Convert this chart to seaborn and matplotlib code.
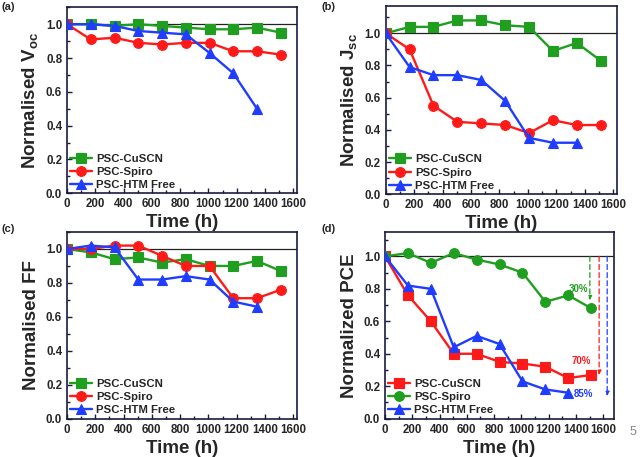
import matplotlib
matplotlib.use('Agg')
import matplotlib.pyplot as plt
import seaborn as sns
from matplotlib.ticker import MultipleLocator, AutoMinorLocator

# === data ===
hours = [0, 168, 336, 504, 672, 840, 1008, 1176, 1344, 1512]
hours_htm = hours[:9]

voc_cuscn = [1.0, 1.0, 0.99, 1.0, 0.99, 0.98, 0.97, 0.97, 0.98, 0.95]
voc_spiro = [1.0, 0.91, 0.92, 0.89, 0.88, 0.89, 0.89, 0.84, 0.84, 0.82]
voc_htm = [1.0, 1.0, 0.99, 0.96, 0.95, 0.94, 0.83, 0.71, 0.50]

jsc_cuscn = [1.0, 1.04, 1.04, 1.08, 1.08, 1.05, 1.04, 0.89, 0.94, 0.83]
jsc_spiro = [1.0, 0.90, 0.55, 0.45, 0.44, 0.43, 0.38, 0.46, 0.43, 0.43]
jsc_htm = [1.0, 0.79, 0.74, 0.74, 0.71, 0.58, 0.35, 0.32, 0.32]

ff_cuscn = [1.0, 0.98, 0.94, 0.95, 0.92, 0.94, 0.90, 0.90, 0.93, 0.87]
ff_spiro = [1.0, 1.0, 1.02, 1.02, 0.96, 0.90, 0.90, 0.71, 0.71, 0.76]
ff_htm = [1.0, 1.02, 1.01, 0.82, 0.82, 0.84, 0.82, 0.69, 0.66]

# panel (d) keeps the legend order of the original figure
pce_cuscn = [1.0, 0.76, 0.60, 0.40, 0.40, 0.35, 0.34, 0.32, 0.25, 0.27]
pce_spiro = [1.0, 1.02, 0.96, 1.02, 0.98, 0.95, 0.90, 0.72, 0.76, 0.68]
pce_htm = [1.0, 0.82, 0.80, 0.44, 0.51, 0.46, 0.23, 0.18, 0.16]

loss_labels = ["30%", "70%", "85%"]
loss_x = [1502, 1570, 1629]
loss_end = [0.73, 0.27, 0.14]
loss_text_x = [1417, 1441, 1453]
loss_text_y = [0.80, 0.355, 0.155]

GREEN = "#1f9e1f"
RED = "#ff1a1a"
BLUE = "#1f3dff"

sns.set_style("ticks")
plt.rcParams['font.family'] = ['Liberation Sans', 'DejaVu Sans']
plt.rcParams['font.weight'] = 'bold'
plt.rcParams['mathtext.fontset'] = 'custom'
plt.rcParams['mathtext.bf'] = 'Liberation Sans:bold'
plt.rcParams['mathtext.rm'] = 'Liberation Sans:bold'
plt.rcParams['mathtext.it'] = 'Liberation Sans:bold'

fig = plt.figure(figsize=(6.4, 4.57), dpi=100)

boxes = {
    "a": [0.1047, 0.577, 0.359, 0.407],
    "b": [0.6027, 0.575, 0.361, 0.412],
    "c": [0.1047, 0.0838, 0.359, 0.4085],
    "d": [0.6016, 0.0838, 0.358, 0.4085],
}


def draw_series(ax, x, y, marker, color, label):
    sns.lineplot(x=x, y=y, ax=ax, marker=marker, color=color, label=label,
                 linewidth=1.7, markersize=7, markeredgecolor=color,
                 markeredgewidth=0.8, zorder=3)


def style_axes(ax, ylabel, ytop, xright=1625):
    ax.axhline(1.0, color="#222222", lw=0.9, zorder=1)
    ax.set_xlim(0, xright)
    ax.set_ylim(0, ytop)
    ax.xaxis.set_major_locator(MultipleLocator(200))
    ax.xaxis.set_minor_locator(AutoMinorLocator(2))
    ax.yaxis.set_major_locator(MultipleLocator(0.2))
    ax.yaxis.set_minor_locator(AutoMinorLocator(2))
    ax.tick_params(which="both", direction="in", top=False, right=False,
                   labelsize=8.3, width=1.0, color="#1a1a40")
    ax.tick_params(which="major", length=3.5)
    ax.tick_params(which="minor", length=2)
    for lbl in ax.get_xticklabels() + ax.get_yticklabels():
        lbl.set_fontweight("bold")
    for sp in ax.spines.values():
        sp.set_linewidth(1.2)
        sp.set_color("#1a1a40")
    ax.set_xlabel("Time (h)", fontsize=13.5, fontweight="bold", labelpad=3)
    ax.set_ylabel(ylabel, fontsize=13.5, fontweight="bold", labelpad=4)
    ax.legend(loc="lower left", frameon=False,
              handlelength=1.9, handletextpad=0.35, labelspacing=0.28,
              borderaxespad=0.0, borderpad=0.3,
              prop={"weight": "bold", "size": 8.2})


# (a)
ax = fig.add_axes(boxes["a"])
draw_series(ax, hours, voc_cuscn, "s", GREEN, "PSC-CuSCN")
draw_series(ax, hours, voc_spiro, "o", RED, "PSC-Spiro")
draw_series(ax, hours_htm, voc_htm, "^", BLUE, "PSC-HTM Free")
style_axes(ax, r"Normalised V$_{\mathbf{oc}}$", 1.1)

# (b)
ax = fig.add_axes(boxes["b"])
draw_series(ax, hours, jsc_cuscn, "s", GREEN, "PSC-CuSCN")
draw_series(ax, hours, jsc_spiro, "o", RED, "PSC-Spiro")
draw_series(ax, hours_htm, jsc_htm, "^", BLUE, "PSC-HTM Free")
style_axes(ax, r"Normalised J$_{\mathbf{sc}}$", 1.17)

# (c)
ax = fig.add_axes(boxes["c"])
draw_series(ax, hours, ff_cuscn, "s", GREEN, "PSC-CuSCN")
draw_series(ax, hours, ff_spiro, "o", RED, "PSC-Spiro")
draw_series(ax, hours_htm, ff_htm, "^", BLUE, "PSC-HTM Free")
style_axes(ax, "Normalised FF", 1.1)

# (d)
ax = fig.add_axes(boxes["d"])
draw_series(ax, hours, pce_cuscn, "s", RED, "PSC-CuSCN")
draw_series(ax, hours, pce_spiro, "o", GREEN, "PSC-Spiro")
draw_series(ax, hours_htm, pce_htm, "^", BLUE, "PSC-HTM Free")
style_axes(ax, "Normalized PCE", 1.15, xright=1680)
for lab, xa, ye, tx, ty, col in zip(loss_labels, loss_x, loss_end,
                                    loss_text_x, loss_text_y,
                                    [GREEN, RED, BLUE]):
    ax.annotate("", xy=(xa, ye), xytext=(xa, 1.0),
                arrowprops=dict(arrowstyle="-|>", color=col, lw=0.9,
                                linestyle=(0, (4, 2.5)), mutation_scale=6,
                                shrinkA=0, shrinkB=0))
    ax.text(tx, ty, lab, color=col, fontsize=7, fontweight="bold",
            ha="center", va="center")

# panel letters
for txt, x, y in [("(a)", 0.003, 0.995), ("(b)", 0.503, 0.995),
                  ("(c)", 0.003, 0.51), ("(d)", 0.503, 0.51)]:
    fig.text(x, y, txt, fontsize=8, fontweight="bold", ha="left", va="top")

fig.text(0.994, 0.055, "5", fontsize=9, color="#8a8a8a", fontweight="normal",
         ha="right", va="center")

fig.savefig("out.png", dpi=100)
